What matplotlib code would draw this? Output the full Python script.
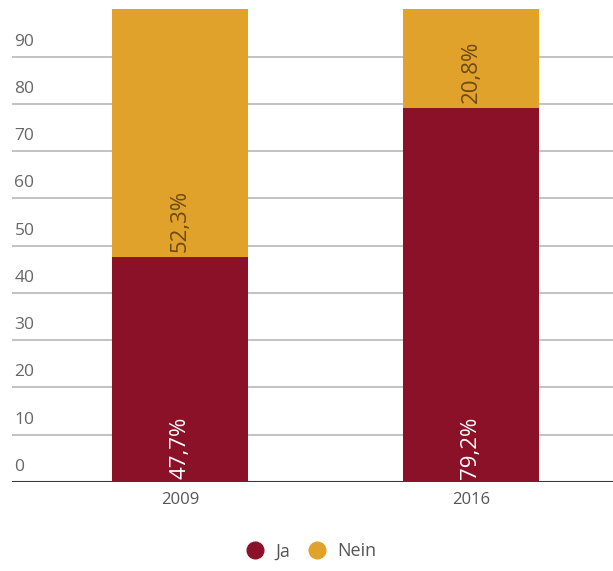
import matplotlib.pyplot as plt
from matplotlib.lines import Line2D

# Daten
years = ['2009', '2016']
ja = [47.7, 79.2]
nein = [52.3, 20.8]
ja_labels = ['47,7%', '79,2%']
nein_labels = ['52,3%', '20,8%']
yticks = [0, 10, 20, 30, 40, 50, 60, 70, 80, 90]

c_ja = '#8a1128'
c_nein = '#e0a22a'

plt.rcParams['font.family'] = ['Open Sans', 'DejaVu Sans']

fig = plt.figure(figsize=(6.13, 5.71), dpi=100)
ax = fig.add_axes([0.0196, 0.156, 0.9804, 0.844])

x = list(range(len(years)))
w = 0.467

# Gitterlinien und Beschriftung der y-Achse (innerhalb der Achse)
for t in yticks:
    if t > 0:
        ax.axhline(t, color='#c2c2c2', lw=1.4, zorder=0)
    ax.text(0.004, t + 1.5, str(t), transform=ax.get_yaxis_transform(),
            ha='left', va='bottom', fontsize=12.5, color='#666666')

ax.bar(x, ja, width=w, color=c_ja, zorder=2)
ax.bar(x, nein, width=w, bottom=ja, color=c_nein, zorder=2)

# Prozentwerte in den Balken
for i in x:
    ax.text(i, 0.6, ja_labels[i], rotation=90, ha='center', va='bottom',
            fontsize=16, color='white', zorder=3)
    ax.text(i, ja[i] + 1.0, nein_labels[i], rotation=90, ha='center', va='bottom',
            fontsize=16, color='#6b4a14', zorder=3)

ax.axhline(0, color='#3a3a3a', lw=1.5, zorder=4)

ax.set_xlim(-0.577, 1.488)
ax.set_ylim(0, 102)
ax.set_yticks([])
ax.set_xticks(x)
ax.set_xticklabels(years, fontsize=12, color='#555555')
ax.tick_params(axis='x', length=0, pad=7)
for s in ax.spines.values():
    s.set_visible(False)

# Legende
handles = [Line2D([], [], marker='o', ls='', color=c_ja, markersize=12),
           Line2D([], [], marker='o', ls='', color=c_nein, markersize=12)]
fig.legend(handles, ['Ja', 'Nein'], loc='lower center', bbox_to_anchor=(0.5, -0.01),
           ncol=2, frameon=False, fontsize=13, handletextpad=0.1,
           columnspacing=0.5, labelcolor='#555555')

fig.savefig('out.png', dpi=100)
